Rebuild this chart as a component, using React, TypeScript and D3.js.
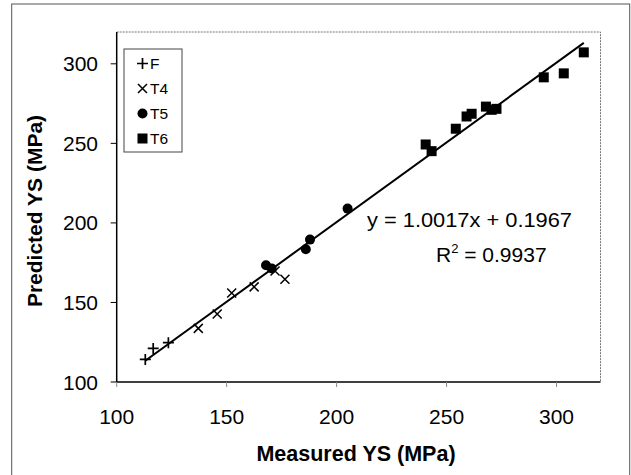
import { scaleLinear } from "d3";

// measured vs predicted yield strength (MPa)
const fMeasured = [113, 116.6, 123.5];
const fPredicted = [114.2, 121.1, 124.7];
const t4Measured = [137.1, 145.7, 152.3, 162.5, 172, 176.5];
const t4Predicted = [133.7, 142.7, 156, 159.8, 169.8, 164.6];
const t5Measured = [167.9, 170.5, 186, 187.9, 205];
const t5Predicted = [173.4, 171.3, 183.4, 189.5, 209];
const t6Measured = [240.5, 243.2, 254.2, 259.1, 261.4, 267.9, 270.5, 272.7, 294.2, 303.3, 312.4];
const t6Predicted = [249.3, 245.1, 259.2, 266.9, 268.6, 273.1, 271.1, 271.7, 291.5, 294.0, 307.2];
const tickValues = [100, 150, 200, 250, 300];
const slope = 1.0017;
const intercept = 0.1967;

const font = "'Liberation Sans', Arial, sans-serif";

const W = 631;
const H = 475;
const plot = { left: 116.7, right: 600.5, top: 32, bottom: 382 };

const x = scaleLinear().domain([100, 320]).range([plot.left, plot.right]);
const y = scaleLinear().domain([100, 320]).range([plot.bottom, plot.top]);

const zip = (a: number[], b: number[]) => a.map((v, i) => [v, b[i]]);

const Plus = ({ cx, cy }: { cx: number; cy: number }) => (
  <path d={`M${cx - 5.5},${cy}H${cx + 5.5}M${cx},${cy - 5.5}V${cy + 5.5}`} stroke="#000" strokeWidth={1.7} />
);
const Times = ({ cx, cy }: { cx: number; cy: number }) => (
  <path d={`M${cx - 4.5},${cy - 4.5}L${cx + 4.5},${cy + 4.5}M${cx - 4.5},${cy + 4.5}L${cx + 4.5},${cy - 4.5}`} stroke="#000" strokeWidth={1.5} />
);
const Dot = ({ cx, cy }: { cx: number; cy: number }) => <circle cx={cx} cy={cy} r={5} fill="#000" />;
const Square = ({ cx, cy }: { cx: number; cy: number }) => (
  <rect x={cx - 5} y={cy - 5} width={10} height={10} fill="#000" />
);

export default function App() {
  const allX = [...fMeasured, ...t4Measured, ...t5Measured, ...t6Measured];
  const x0 = Math.min(...allX);
  const x1 = Math.max(...allX);

  const legend = [
    { label: "F", M: Plus },
    { label: "T4", M: Times },
    { label: "T5", M: Dot },
    { label: "T6", M: Square },
  ];

  return (
    <svg width={W} height={H} style={{ position: "absolute", left: 0, top: 0, background: "#fff" }} fontFamily={font}>
      {/* chart frame */}
      <rect x={11.7} y={4} width={618} height={490} fill="none" stroke="#555" strokeWidth={1} />

      {/* plot area border (top/right dotted) */}
      <path
        d={`M${plot.left},${plot.top}H${plot.right}V${plot.bottom}`}
        fill="none"
        stroke="#777"
        strokeWidth={1}
        strokeDasharray="2,1"
      />

      {/* y axis */}
      <line x1={plot.left} x2={plot.left} y1={plot.top} y2={plot.bottom} stroke="#000" strokeWidth={1.5} />
      {tickValues.map((t) => (
        <g key={"y" + t}>
          <line x1={plot.left - 6} x2={plot.left} y1={y(t)} y2={y(t)} stroke="#000" strokeWidth={1} />
          <text x={98} y={y(t) + 7.5} textAnchor="end" fontSize={21}>
            {t}
          </text>
        </g>
      ))}

      {/* x axis */}
      <line x1={plot.left} x2={plot.right} y1={plot.bottom} y2={plot.bottom} stroke="#000" strokeWidth={1.5} />
      {tickValues.map((t) => (
        <g key={"x" + t}>
          <line x1={x(t)} x2={x(t)} y1={plot.bottom} y2={plot.bottom + 5} stroke="#888" strokeWidth={1} />
          <text x={x(t)} y={424} textAnchor="middle" fontSize={21}>
            {t}
          </text>
        </g>
      ))}

      <text x={356} y={461} textAnchor="middle" fontSize={21.5} fontWeight="bold">
        Measured YS (MPa)
      </text>
      <text transform={`translate(42,211) rotate(-90)`} textAnchor="middle" fontSize={21} fontWeight="bold">
        Predicted YS (MPa)
      </text>

      {/* trend line */}
      <line
        x1={x(x0)}
        y1={y(slope * x0 + intercept)}
        x2={x(x1)}
        y2={y(slope * x1 + intercept)}
        stroke="#000"
        strokeWidth={2}
      />

      {zip(fMeasured, fPredicted).map(([a, b], i) => (
        <Plus key={"f" + i} cx={x(a)} cy={y(b)} />
      ))}
      {zip(t4Measured, t4Predicted).map(([a, b], i) => (
        <Times key={"t4" + i} cx={x(a)} cy={y(b)} />
      ))}
      {zip(t5Measured, t5Predicted).map(([a, b], i) => (
        <Dot key={"t5" + i} cx={x(a)} cy={y(b)} />
      ))}
      {zip(t6Measured, t6Predicted).map(([a, b], i) => (
        <Square key={"t6" + i} cx={x(a)} cy={y(b)} />
      ))}

      {/* equation */}
      <text x={367} y={227} fontSize={21} textLength={205} lengthAdjust="spacingAndGlyphs">
        y = 1.0017x + 0.1967
      </text>
      <text x={436} y={262} fontSize={21}>
        R<tspan dy={-9} fontSize={13}>2</tspan>
        <tspan dy={9}> = 0.9937</tspan>
      </text>

      {/* legend */}
      <rect x={124} y={49} width={58} height={103} fill="#fff" stroke="#444" strokeWidth={1} />
      {legend.map((d, i) => {
        const cy = 63.5 + i * 25;
        return (
          <g key={d.label}>
            <d.M cx={142.5} cy={cy} />
            <text x={150} y={cy + 5.5} fontSize={15.5}>
              {d.label}
            </text>
          </g>
        );
      })}
    </svg>
  );
}
